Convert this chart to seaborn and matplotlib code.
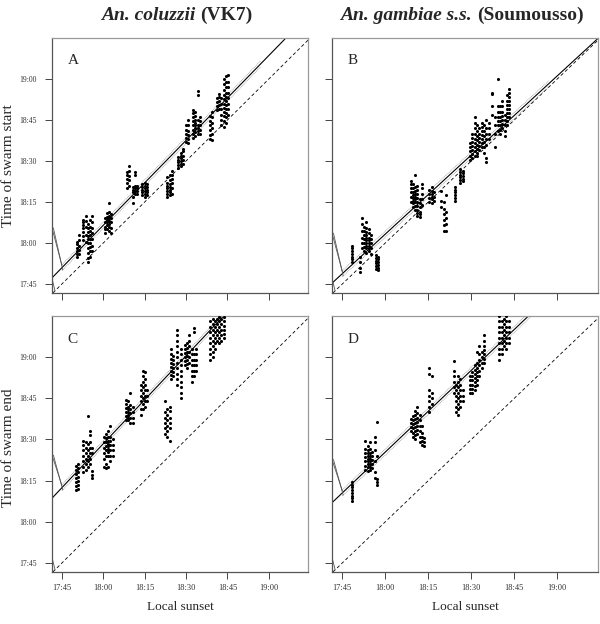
import numpy as np
import pandas as pd
import matplotlib
matplotlib.use('Agg')
import matplotlib.pyplot as plt
import seaborn as sns

sns.set_theme(style="white")
plt.rcParams['font.family'] = ['Liberation Serif', 'DejaVu Serif']

# all times are minutes after 17:00 (x = local sunset, y = swarm time)
tick_pos = [45, 60, 75, 90, 105, 120]
tick_lab = ['17:45', '18:00', '18:15', '18:30', '18:45', '19:00']

# columns of points: (sunset, [swarm times])
start_coluzzii = [
    (50.4, [55, 56, 57, 58, 59.5, 60.5]),
    (51.2, [56, 57.5, 59, 61, 63]),
    (52.8, [61, 62.5, 64, 65.5, 66.5, 67.5, 68.5]),
    (53.6, [60.5, 63, 66, 68, 70]),
    (54.6, [53, 54.5, 56.5, 58, 60, 61.5, 62.5, 64, 65.5, 67]),
    (55.3, [55, 57, 58.5, 60, 61.5, 63, 64.5, 66, 68.5]),
    (56.0, [57, 59, 61.5, 63.5, 65.5, 67.5, 70]),
    (60.5, [63.5, 65, 66, 67.5, 69]),
    (61.3, [65, 66.5, 67.5, 68.5, 69.5, 71]),
    (62.0, [64.5, 66, 67, 68, 69, 70, 71.5, 74.5]),
    (62.8, [63.5, 65.5, 67.5, 69, 70.5]),
    (68.6, [80, 82, 83.5, 85, 86]),
    (69.4, [81, 83, 84.5, 86.5, 88]),
    (70.6, [74.5, 77, 78.5, 79.5, 80.5]),
    (71.4, [78, 79, 80, 81, 85, 86]),
    (72.2, [78, 79, 80, 81]),
    (74.2, [77.5, 78.5, 79.5, 80.5, 81.5]),
    (75.0, [77, 78, 79, 80, 81, 82]),
    (75.8, [77.5, 78.5, 79.5, 80.5, 81.5]),
    (83.2, [77, 78, 79, 80, 81, 82, 84]),
    (84.0, [77.5, 78.5, 79.5, 80.5, 81.5, 83, 85]),
    (84.8, [78, 80, 82, 83.5, 85, 86.5]),
    (87.2, [87.5, 88.5, 89.5, 90.5, 91.5]),
    (88.0, [88, 89, 90, 91, 92, 93]),
    (88.8, [89, 90.5, 92, 93.5, 94.5]),
    (89.8, [97, 98.5, 100, 101.5, 103]),
    (90.8, [96.5, 98, 99.5, 101, 103, 105]),
    (92.6, [98.5, 100, 101.5, 103, 104.5, 106, 107.5, 108.5]),
    (93.4, [99, 100.5, 102, 103, 104, 105, 106.5, 108]),
    (94.2, [100, 101, 102, 103, 105, 114, 115.5]),
    (95.0, [100, 101.5, 103, 104.5, 106]),
    (98.6, [98, 99.5, 101.5, 103, 104.5, 106.5]),
    (99.4, [97.5, 100, 102, 104, 106, 108]),
    (101.2, [108.5, 110, 111.5, 113]),
    (102.0, [109, 110.5, 112, 113.5, 114.5]),
    (102.8, [103, 105, 107, 109, 111, 113]),
    (103.6, [102.5, 104.5, 106.5, 108, 109.5, 111, 112.5, 114, 116, 118, 120]),
    (104.4, [104, 106, 107.5, 109, 110.5, 112, 113.5, 115, 117, 119, 121]),
    (105.2, [107, 109, 111, 113, 115, 117, 119, 121.5]),
]

start_gambiae = [
    (48.4, [53, 54, 55, 56, 57, 58, 59]),
    (51.0, [49.5, 51, 53, 55]),
    (51.8, [58, 60, 62, 64.5, 67, 69]),
    (52.6, [57, 58.5, 60, 61.5, 63, 64.5, 66]),
    (53.4, [56.5, 58, 59, 60, 61, 62, 63, 64, 65.5, 67.5]),
    (54.2, [57, 58, 59, 60, 61, 62, 63.5, 65]),
    (55.0, [56, 58, 60, 61.5, 63]),
    (56.6, [50.5, 51.5, 52.5, 53.5, 54.5, 55.5]),
    (57.4, [50, 51, 52, 53, 54, 55]),
    (68.8, [75, 77, 78.5, 80, 81.5, 82.5]),
    (69.6, [73, 74.5, 75.5, 76.5, 77.5, 78.5, 80, 81.5]),
    (70.4, [72, 73.5, 75, 76, 77, 78, 79, 80.5, 85]),
    (71.2, [70, 71, 72, 73.5, 75, 76.5, 78, 79.5, 81]),
    (72.0, [69.5, 70.5, 71.5, 73, 74.5, 76]),
    (72.8, [74, 76, 78, 80, 81.5]),
    (75.4, [75, 76.5, 78, 79.5]),
    (76.2, [74.5, 76, 77, 78, 79, 80.5]),
    (77.0, [75.5, 77, 78.5]),
    (79.6, [73, 75.5, 79]),
    (80.4, [64.5, 66.5, 68.5, 70.5, 72.5, 75]),
    (81.2, [64.5, 67, 69, 71.5, 77.5]),
    (84.3, [75.5, 76.5, 77.5, 78.5, 79.5, 80.5]),
    (86.2, [82, 83, 84, 85, 86, 87]),
    (87.0, [82.5, 83.5, 84.5, 85.5, 86.5]),
    (89.6, [90.5, 92, 93.5, 95, 96.5]),
    (90.4, [91, 92.5, 94, 95.5, 97, 98.5, 100]),
    (91.2, [92, 93.5, 95, 96.5, 98, 100, 102, 104, 106]),
    (92.0, [92, 93, 94.5, 96, 97.5, 99, 101, 103]),
    (92.8, [94, 95.5, 97, 98.5, 100, 102]),
    (93.6, [95, 96.5, 98, 99.5, 101, 102.5, 104]),
    (94.4, [93, 95, 97, 99, 101, 103]),
    (95.2, [89.5, 91, 96, 98, 100, 102, 105]),
    (96.0, [98, 100, 102, 104]),
    (97.2, [107, 110, 114.5, 115]),
    (98.4, [95, 100, 103, 106]),
    (99.2, [101, 103, 104.5, 106, 108, 110, 120]),
    (100.0, [100, 101.5, 103, 104.5, 106, 108, 110]),
    (100.8, [102, 103.5, 105, 106.5, 108, 110, 112]),
    (101.6, [99, 101, 103, 105, 107]),
    (102.4, [103, 104.5, 106, 107.5, 109, 110.5, 112, 114]),
    (103.2, [106, 107.5, 109, 110.5, 112, 113.5, 115, 116.5]),
]

end_coluzzii = [
    (50.2, [71.5, 73, 74.5, 76, 77.5, 79, 80.5]),
    (51.0, [72, 73.5, 75, 76.5, 78, 79.5, 81]),
    (52.8, [78, 80, 82, 84, 86, 88, 89.5]),
    (53.6, [79, 81, 83, 85, 87, 89]),
    (54.4, [80, 82, 84, 86, 88.5, 98.5]),
    (55.2, [81, 83, 85, 87, 89, 91.5, 93]),
    (56.0, [76, 77, 78.5, 85, 87]),
    (60.2, [80, 83, 85, 87, 89, 91]),
    (61.0, [79.5, 81, 84, 86, 87.5, 89, 90.5, 92]),
    (61.8, [80, 84, 85.5, 86.5, 87.5, 88.5, 89.5, 91, 93]),
    (62.6, [82, 84, 86, 88, 89.5, 91, 95]),
    (63.4, [84, 86, 88, 90]),
    (68.2, [97, 98.5, 100, 101.5, 103, 104.5]),
    (69.0, [97, 98, 99, 100, 101, 102, 104]),
    (69.8, [96, 98, 99.5, 101, 102.5, 107]),
    (70.6, [96, 98, 100, 102]),
    (73.6, [99, 101, 104, 106, 108, 110]),
    (74.4, [101, 103, 105, 107, 109, 111, 113, 115]),
    (75.2, [102, 104, 106, 108, 110, 112, 114.5]),
    (76.0, [104, 106, 108]),
    (82.4, [92, 94, 96, 98, 100, 104]),
    (83.2, [91, 93, 95, 97, 99, 101]),
    (84.0, [89.5, 94, 96, 98, 100.5, 102]),
    (84.6, [112, 113.5, 115, 116.5, 118, 119.5, 121, 123]),
    (85.4, [113, 114.5, 116, 117.5, 119, 120.5]),
    (86.8, [110, 112, 114, 116, 118, 120, 122, 124, 126, 128, 130]),
    (88.0, [105, 107, 109, 111, 113, 115, 117, 119, 121, 123]),
    (89.6, [117, 118.5, 120, 121.5, 123, 124.5]),
    (90.4, [116, 117.5, 119, 120.5, 122, 123.5, 125]),
    (91.2, [118, 120, 122, 124, 126, 128]),
    (92.0, [111, 113, 115, 117, 119, 121, 123]),
    (92.8, [113, 115, 117, 119, 121, 129, 130.5]),
    (93.6, [115, 117, 119, 121, 123]),
    (98.8, [119, 121, 123, 125, 127, 129, 131, 133]),
    (99.6, [120, 122, 124, 126, 128, 130, 132, 134]),
    (100.4, [123, 125, 127, 129, 131, 133]),
    (101.2, [126, 128, 130, 132, 134]),
    (102.0, [125, 127, 129, 131, 133, 134.5]),
    (102.8, [126, 128, 130, 132, 134]),
    (103.6, [127, 128.5, 130, 131.5, 133, 134.5]),
]

end_gambiae = [
    (48.3, [67.5, 68.5, 69.5, 70.5, 71.5, 72.5, 73.5, 74.5]),
    (53.0, [79, 80.5, 82, 83.5, 85, 86.5, 89.5]),
    (53.8, [78.5, 80, 81, 82, 83, 84, 85, 86, 87.5]),
    (54.6, [79, 80, 81, 82, 83, 84, 85, 86.5, 89]),
    (55.4, [79.5, 81, 82.5, 84, 85.5]),
    (56.4, [76, 78, 82, 86, 89, 91]),
    (57.2, [73.5, 74.5, 75.5, 84, 96.5]),
    (68.8, [93, 94.5, 96, 97.5]),
    (69.6, [91, 92.5, 94, 95.5, 97, 98.5]),
    (70.4, [90, 91.5, 93, 94.5, 96, 97.5, 99, 100.5]),
    (71.2, [92, 93.5, 95, 96.5, 98, 99.5, 102]),
    (72.0, [89, 91, 93, 95, 97, 99]),
    (72.8, [88, 89.5, 91, 92.5, 95]),
    (73.6, [87.5, 89, 90.5]),
    (75.4, [100, 102, 104, 106, 108, 114, 116]),
    (76.2, [103, 105, 107, 113]),
    (83.8, [107, 109, 111, 113, 115, 118.5]),
    (84.6, [100, 102, 104, 106, 108, 110]),
    (85.4, [99, 101, 103, 105, 107, 109, 111, 113]),
    (86.2, [102, 104, 106, 108, 110, 112]),
    (87.0, [104, 106, 108]),
    (89.6, [107, 108.5, 110, 111.5, 113]),
    (90.4, [107, 108.5, 110, 111.5, 113, 114.5]),
    (91.2, [108, 109.5, 111, 112.5, 114, 115.5, 117]),
    (92.0, [110, 111.5, 113, 114.5, 116, 118, 122]),
    (92.8, [113, 115, 117, 119, 121, 124]),
    (93.6, [116, 118, 120, 122]),
    (94.4, [118, 119.5, 121, 122.5, 124, 126, 128]),
    (99.8, [119, 121, 123, 125, 127, 129, 131, 133, 135]),
    (100.6, [121, 123, 125, 127, 129, 131, 133]),
    (101.4, [124, 126, 128, 130, 132, 134]),
    (102.2, [123, 125, 127, 129, 131, 133, 135]),
    (103.0, [125, 127, 129, 131, 133]),
]

# fitted lines: intercept, slope (time = a + b * sunset)
fit_a = [4.39, 5.35, 24.38, 25.84]
fit_b = [1.035, 0.965, 1.068, 0.993]
# where the band lines start on the left edge
band_left = [65.5, 63.6, 84.3, 82.7]

panel_data = [start_coluzzii, start_gambiae, end_coluzzii, end_gambiae]
panel_letters = ['A', 'B', 'C', 'D']


def to_frame(cols):
    rows = [(x, y) for x, ys in cols for y in ys]
    return pd.DataFrame(rows, columns=['sunset', 'time'])


W, H = 600, 624
fig = plt.figure(figsize=(W / 100, H / 100), dpi=100)
boxes = [
    (52, 38, 308, 293), (332, 38, 598, 293),
    (52, 316, 308, 572), (332, 316, 598, 572),
]
xlim = (41.4, 134.2)
ylim = (41.7, 135.0)

axes = []
for i, (x0, y0, x1, y1) in enumerate(boxes):
    ax = fig.add_axes([x0 / W, 1 - y1 / H, (x1 - x0) / W, (y1 - y0) / H])
    axes.append(ax)
    df = to_frame(panel_data[i])
    sns.scatterplot(data=df, x='sunset', y='time', ax=ax, color='black',
                    s=5, marker='o', linewidth=0, legend=False, zorder=3)
    a, b = fit_a[i], fit_b[i]
    # identity line
    ax.axline((50, 50), slope=1, color='black', lw=0.6, ls=(0, (4, 3)), zorder=2)
    # regression line
    ax.axline((50, a + b * 50), slope=b, color='black', lw=0.8, zorder=2)
    # confidence band
    xs = np.array([45, 117])
    for off in (-1.1, 1.1):
        ax.plot(xs, a + b * xs + off, color='#999999', lw=0.6, ls=(0, (1, 1)), zorder=2)
    # odd left-edge strokes in the original
    y45 = a + b * 45
    ax.plot([xlim[0], 45], [band_left[i], y45 + 0.8], color='#555555', lw=0.6, zorder=2)
    ax.plot([xlim[0] + 0.5, 45.3], [band_left[i], y45 - 0.8], color='#555555', lw=0.6, zorder=2)
    ax.plot([xlim[0], 42.5], [47, 42.5], color='#555555', lw=0.6, zorder=2)

    ax.set_xlim(*xlim)
    ax.set_ylim(*ylim)
    ax.set_xticks(tick_pos)
    ax.set_yticks(tick_pos)
    ax.set_xticklabels(tick_lab)
    ax.set_yticklabels(tick_lab)
    ax.tick_params(axis='both', direction='out', length=5, width=0.7,
                   color='#444444', labelsize=6, labelcolor='#333333',
                   left=True, bottom=True)
    ax.tick_params(axis='y', pad=6, labelsize=5.5)
    ax.tick_params(axis='x', pad=4)
    if i in (1, 3):
        ax.tick_params(labelleft=False)
    if i in (0, 1):
        ax.tick_params(labelbottom=False)
    ax.set_xlabel('')
    ax.set_ylabel('')
    for side, sp in ax.spines.items():
        sp.set_color('#555555' if side in ('left', 'bottom') else '#999999')
        sp.set_linewidth(0.9)
    ax.text(0.06, 0.91, panel_letters[i], transform=ax.transAxes,
            fontsize=11, ha='left', va='center')

# axis labels
fig.text(9 / W, 1 - 166 / H, 'Time of swarm start', rotation=90,
         ha='center', va='center', fontsize=11)
fig.text(9 / W, 1 - 448 / H, 'Time of swarm end', rotation=90,
         ha='center', va='center', fontsize=11)
fig.text(180 / W, 1 - 607 / H, 'Local sunset', ha='center', va='center', fontsize=9.5)
fig.text(465 / W, 1 - 607 / H, 'Local sunset', ha='center', va='center', fontsize=9.5)

# column titles: italic species name + plain site name
titles = [('An. coluzzii ', '(VK7)', 177), ('An. gambiae s.s. ', '(Soumousso)', 462)]
fig.canvas.draw()
renderer = fig.canvas.get_renderer()
for ital, plain, cx in titles:
    t1 = fig.text(0, 1 - 15 / H, ital, fontsize=14, fontweight='bold',
                  fontstyle='italic', ha='left', va='center')
    t2 = fig.text(0, 1 - 15 / H, plain, fontsize=14, fontweight='bold',
                  ha='left', va='center')
    w1 = t1.get_window_extent(renderer).width
    w2 = t2.get_window_extent(renderer).width
    start = cx - (w1 + w2) / 2
    t1.set_x(start / W)
    t2.set_x((start + w1) / W)

fig.savefig('out.png', dpi=100)
